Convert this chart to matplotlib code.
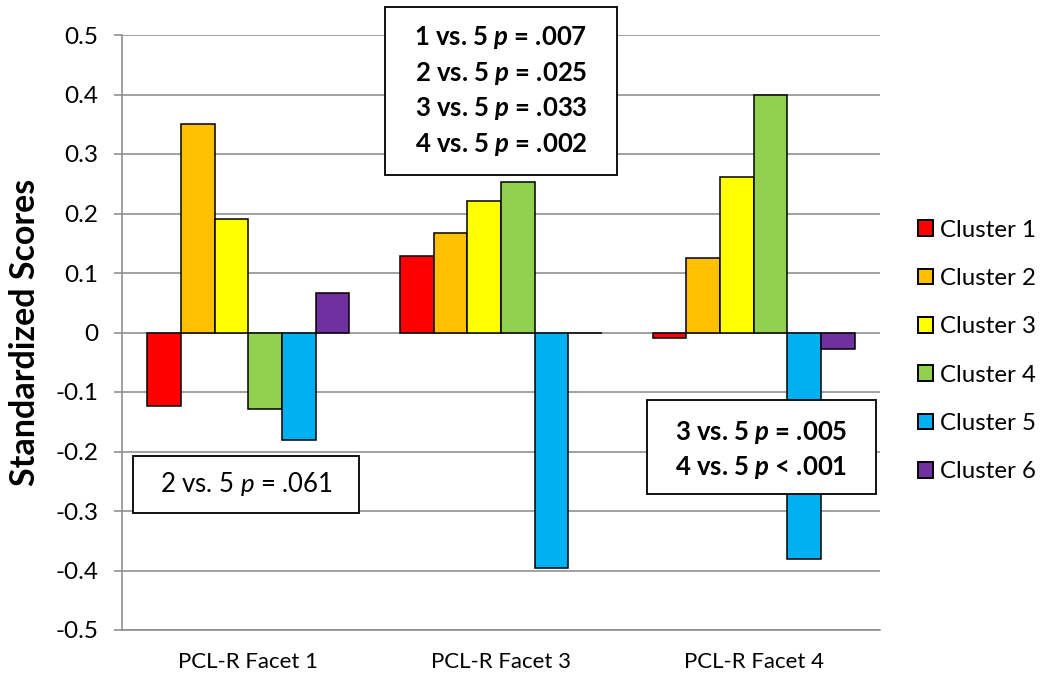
import matplotlib
matplotlib.use("Agg")
import matplotlib.pyplot as plt
from matplotlib.patches import Rectangle, Patch
import numpy as np

# Data
facets = ["PCL-R Facet 1", "PCL-R Facet 3", "PCL-R Facet 4"]
clusters = ["Cluster 1", "Cluster 2", "Cluster 3", "Cluster 4", "Cluster 5", "Cluster 6"]
cluster1 = [-0.124, 0.128, -0.010]
cluster2 = [0.350, 0.168, 0.126]
cluster3 = [0.190, 0.221, 0.262]
cluster4 = [-0.129, 0.253, 0.400]
cluster5 = [-0.181, -0.395, -0.380]
cluster6 = [0.067, -0.001, -0.027]
colors = ["#FF0000", "#FFC000", "#FFFF00", "#92D050", "#00B0F0", "#7030A0"]
yticks = [-0.5, -0.4, -0.3, -0.2, -0.1, 0, 0.1, 0.2, 0.3, 0.4, 0.5]
ytick_labels = ["-0.5", "-0.4", "-0.3", "-0.2", "-0.1", "0", "0.1", "0.2", "0.3", "0.4", "0.5"]

series = [cluster1, cluster2, cluster3, cluster4, cluster5, cluster6]

plt.rcParams["font.family"] = ["Lato", "DejaVu Sans"]
plt.rcParams["mathtext.fontset"] = "custom"
plt.rcParams["mathtext.rm"] = "Lato"
plt.rcParams["mathtext.it"] = "Lato:italic"
plt.rcParams["mathtext.bf"] = "Lato:bold"
plt.rcParams["mathtext.bfit"] = "Lato:italic:bold"

W, H = 1042, 679
fig = plt.figure(figsize=(W / 100, H / 100), dpi=100)
ax = fig.add_axes([122 / W, 1 - 630 / H, (880 - 122) / W, (630 - 35) / H])

grid_col = "#888888"
n = len(series)
group_w = 0.8
bw = group_w / n
x = np.arange(len(facets))
for i, (vals, col) in enumerate(zip(series, colors)):
    ax.bar(x - group_w / 2 + bw * (i + 0.5), vals, width=bw, color=col,
           edgecolor="black", linewidth=1.1, zorder=3)

ax.set_xlim(-0.5, len(facets) - 0.5)
ax.set_ylim(-0.5, 0.5)
ax.set_yticks(yticks)
ax.set_yticklabels(ytick_labels, fontsize=17.5)
ax.set_xticks(x)
ax.set_xticklabels(facets, fontsize=16)
ax.tick_params(axis="x", length=0, pad=16)
ax.tick_params(axis="y", length=5.8, width=1.1, color=grid_col, pad=11)
ax.yaxis.grid(True, color=grid_col, linewidth=1.1, zorder=0)
ax.set_axisbelow(True)
for s in ["top", "right"]:
    ax.spines[s].set_visible(False)
ax.spines["left"].set_color(grid_col)
ax.spines["left"].set_linewidth(1.1)
ax.spines["bottom"].set_color(grid_col)
ax.spines["bottom"].set_linewidth(1.1)
ax.set_ylabel("Standardized Scores", fontsize=24.5, fontweight="bold")
ax.yaxis.set_label_coords(-(122 - 41) / (880 - 122), 0.5)

# Significance annotation boxes (figure pixel coordinates, origin top-left)
def note_box(x0, y0, x1, y1, lines, bold, spacing, dy=0):
    fig.patches.append(Rectangle((x0 / W, 1 - y1 / H), (x1 - x0) / W, (y1 - y0) / H,
                                 transform=fig.transFigure, facecolor="white",
                                 edgecolor="black", linewidth=1.3, zorder=10))
    cx = (x0 + x1) / 2
    cy = (y0 + y1) / 2 + dy
    k = len(lines)
    for j, line in enumerate(lines):
        yy = cy + (j - (k - 1) / 2) * spacing
        fig.text(cx / W, 1 - yy / H, line, ha="center", va="center",
                 fontsize=18.5, fontweight="bold" if bold else "normal", zorder=11)

note_box(133, 456, 359, 513, [r"2 vs. 5 $\mathit{p}$ = .061"], False, 0)
note_box(385, 7, 617, 175, [r"1 vs. 5 $\mathbfit{p}$ = .007", r"2 vs. 5 $\mathbfit{p}$ = .025",
                            r"3 vs. 5 $\mathbfit{p}$ = .033", r"4 vs. 5 $\mathbfit{p}$ = .002"], True, 35.5)
note_box(647, 400, 876, 494, [r"3 vs. 5 $\mathbfit{p}$ = .005", r"4 vs. 5 $\mathbfit{p}$ < .001"], True, 35, dy=3)

handles = [Patch(facecolor=c, edgecolor="black", linewidth=1.4) for c in colors]
fig.legend(handles, clusters, loc="center left", bbox_to_anchor=(908 / W, 1 - 351 / H),
           frameon=False, fontsize=17.3, handlelength=0.62, handleheight=0.62,
           handletextpad=0.3, labelspacing=1.14, borderaxespad=0)

fig.savefig("out.png", dpi=100)
